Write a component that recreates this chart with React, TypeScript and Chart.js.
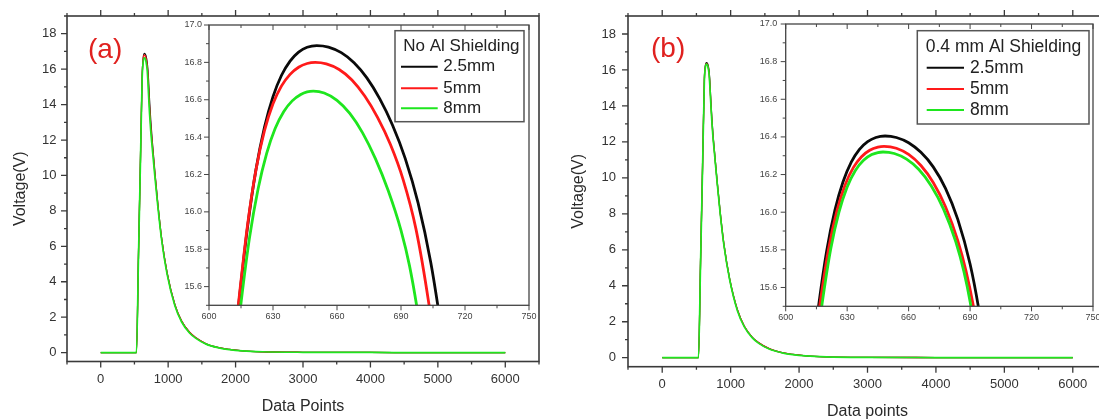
import React, { useEffect, useRef } from "react";
import { Chart, registerables } from "chart.js";
Chart.register(...registerables);

const FONT = "'Liberation Sans', Arial, Helvetica, sans-serif";

// ---------- data ----------
const seriesLabels = ["2.5mm", "5mm", "8mm"];
const seriesColors = ["#0a0a0a", "#ff1a1a", "#1ee61e"];
const legendTitleA = "No Al Shielding";
const legendTitleB = "0.4 mm Al Shielding";
const panelLabelA = "(a)";
const panelLabelB = "(b)";
const xTitleA = "Data Points";
const xTitleB = "Data points";
const yTitle = "Voltage(V)";

const mainXTicks = [0, 1000, 2000, 3000, 4000, 5000, 6000];
const mainYTicks = [0, 2, 4, 6, 8, 10, 12, 14, 16, 18];
const insetXTicks = [600, 630, 660, 690, 720, 750];
const insetYTicks = [15.6, 15.8, 16.0, 16.2, 16.4, 16.6, 16.8, 17.0];

// panel (a) main traces
const mainXA = [0, 530, 560, 590, 614, 630, 650, 670, 690, 700, 708, 716, 724, 740, 763, 803, 847, 902, 985, 1100, 1200, 1317, 1406, 1563, 1752, 1908, 2100, 2400, 3000, 4000, 5000, 6000];
const mainBlackA = [0, 0, 5.5, 11.0, 15.51, 16.62, 16.89, 16.77, 16.345, 15.94, 15.44, 14.85, 14.25, 13.2, 12.0, 10.2, 8.4, 6.5, 4.5, 2.7, 1.78, 1.15, 0.85, 0.5, 0.28, 0.18, 0.1, 0.05, 0.02, 0.01, 0, 0];
const mainRedA = [0, 0, 5.5, 11.0, 15.52, 16.58, 16.8, 16.66, 16.2, 15.71, 15.09, 14.45, 13.88, 12.9, 11.85, 10.12, 8.36, 6.48, 4.49, 2.7, 1.78, 1.15, 0.85, 0.5, 0.28, 0.18, 0.1, 0.05, 0.02, 0.01, 0, 0];
const mainGreenA = [0, 0, 5.4, 10.9, 15.41, 16.41, 16.645, 16.46, 15.9, 15.29, 14.65, 14.05, 13.5, 12.6, 11.6, 9.95, 8.25, 6.4, 4.42, 2.64, 1.73, 1.11, 0.82, 0.48, 0.27, 0.17, 0.1, 0.05, 0.02, 0.01, 0, 0];

// panel (b) main traces
const mainXB = [0, 530, 560, 590, 616, 630, 648, 666, 684, 694, 704, 712, 724, 740, 763, 803, 847, 902, 985, 1100, 1200, 1317, 1406, 1563, 1752, 1908, 2100, 2400, 3000, 4000, 5000, 6000];
const mainBlackB = [0, 0, 5.3, 10.7, 15.5, 16.21, 16.405, 16.318, 15.962, 15.5, 14.78, 14.2, 13.4, 12.5, 11.5, 9.8, 8.1, 6.3, 4.4, 2.65, 1.75, 1.13, 0.84, 0.5, 0.28, 0.18, 0.1, 0.05, 0.02, 0.01, 0, 0];
const mainRedB = [0, 0, 5.3, 10.7, 15.45, 16.17, 16.35, 16.248, 15.849, 15.34, 14.65, 14.1, 13.3, 12.42, 11.44, 9.77, 8.08, 6.29, 4.39, 2.65, 1.75, 1.13, 0.84, 0.5, 0.28, 0.18, 0.1, 0.05, 0.02, 0.01, 0, 0];
const mainGreenB = [0, 0, 5.2, 10.6, 15.37, 16.134, 16.32, 16.21, 15.8, 15.245, 14.55, 14.0, 13.22, 12.35, 11.38, 9.72, 8.03, 6.24, 4.35, 2.6, 1.71, 1.1, 0.81, 0.48, 0.27, 0.17, 0.1, 0.05, 0.02, 0.01, 0, 0];

// panel (a) inset (peak zoom)
const insetBlackAX = [612, 614, 618, 622, 626, 630, 634, 638, 642, 646, 650.5, 656, 662, 668, 674, 680, 686, 692, 698, 704, 708, 710];
const insetBlackAY = [15.29, 15.513, 15.913, 16.225, 16.453, 16.617, 16.731, 16.807, 16.855, 16.881, 16.89, 16.882, 16.852, 16.798, 16.717, 16.606, 16.465, 16.285, 16.048, 15.727, 15.443, 15.28];
const insetRedAX = [612, 614, 618, 622, 626, 630, 634, 638, 642, 646, 649.8, 655, 661, 667, 673, 679, 685, 691, 697, 703, 706];
const insetRedAY = [15.31, 15.528, 15.924, 16.224, 16.434, 16.578, 16.674, 16.736, 16.774, 16.794, 16.8, 16.792, 16.762, 16.706, 16.62, 16.506, 16.362, 16.173, 15.909, 15.513, 15.258];
const insetGreenAX = [613, 615, 619, 623, 627, 631, 635, 639, 643, 646, 648.9, 654, 660, 666, 672, 678, 684, 690, 694, 698, 700];
const insetGreenAY = [15.31, 15.512, 15.862, 16.122, 16.312, 16.446, 16.536, 16.594, 16.628, 16.642, 16.646, 16.636, 16.597, 16.527, 16.423, 16.285, 16.114, 15.901, 15.711, 15.451, 15.29];

// panel (b) inset (peak zoom)
const insetBlackBX = [614, 616, 620, 624, 628, 632, 636, 640, 644, 648.5, 654, 660, 666, 672, 678, 684, 690, 694, 697];
const insetBlackBY = [15.32, 15.498, 15.794, 16.01, 16.162, 16.266, 16.334, 16.375, 16.397, 16.405, 16.397, 16.369, 16.318, 16.241, 16.127, 15.962, 15.725, 15.501, 15.285];
const insetRedBX = [615, 617, 621, 625, 629, 633, 637, 641, 645, 648, 654, 660, 666, 672, 678, 684, 688, 692, 695];
const insetRedBY = [15.37, 15.533, 15.809, 16.007, 16.145, 16.237, 16.295, 16.329, 16.346, 16.35, 16.34, 16.307, 16.248, 16.158, 16.029, 15.849, 15.689, 15.479, 15.279];
const insetGreenBX = [616, 618, 622, 626, 630, 634, 638, 642, 645, 647.5, 653, 659, 665, 671, 677, 683, 687, 690, 693];
const insetGreenBY = [15.37, 15.532, 15.806, 16.0, 16.134, 16.222, 16.276, 16.306, 16.317, 16.32, 16.312, 16.282, 16.227, 16.141, 16.018, 15.844, 15.684, 15.525, 15.315];

// ---------- helpers ----------
function xy(xs: number[], ys: number[]) {
  return xs.map((x, i) => ({ x, y: ys[i] }));
}

function stepValues(min: number, max: number, step: number) {
  const out: number[] = [];
  const n0 = Math.ceil(min / step - 1e-9);
  const n1 = Math.floor(max / step + 1e-9);
  for (let n = n0; n <= n1; n++) out.push(+(n * step).toFixed(6));
  return out;
}

const framePlugin = {
  id: "frameTicks",
  beforeDraw(chart: any, _a: any, o: any) {
    if (!o || !o.fill) return;
    const { ctx, chartArea: c } = chart;
    ctx.save();
    ctx.fillStyle = o.fill;
    ctx.fillRect(c.left, c.top, c.right - c.left, c.bottom - c.top);
    ctx.restore();
  },
  afterDraw(chart: any, _a: any, o: any) {
    if (!o) return;
    const { ctx, chartArea: c, scales } = chart;
    const xs = scales.x;
    const ys = scales.y;
    const xMaj = xs.ticks.map((t: any) => t.value);
    const yMaj = ys.ticks.map((t: any) => t.value);
    const isMaj = (arr: number[], v: number) => arr.some((m) => Math.abs(m - v) < 1e-6);
    ctx.save();
    ctx.strokeStyle = o.color;
    ctx.lineWidth = o.tickWidth;
    ctx.beginPath();
    for (const v of stepValues(xs.min, xs.max, o.xMinorStep)) {
      const len = isMaj(xMaj, v) ? o.major : o.minor;
      const px = xs.getPixelForValue(v);
      if (o.bottom) {
        ctx.moveTo(px, c.bottom);
        ctx.lineTo(px, c.bottom + o.bottom * len);
      }
      if (o.top) {
        ctx.moveTo(px, c.top);
        ctx.lineTo(px, c.top - o.top * len);
      }
    }
    for (const v of stepValues(ys.min, ys.max, o.yMinorStep)) {
      const len = isMaj(yMaj, v) ? o.major : o.minor;
      const py = ys.getPixelForValue(v);
      if (o.left) {
        ctx.moveTo(c.left, py);
        ctx.lineTo(c.left - o.left * len, py);
      }
      if (o.right) {
        ctx.moveTo(c.right, py);
        ctx.lineTo(c.right + o.right * len, py);
      }
    }
    ctx.stroke();
    ctx.lineWidth = o.frameWidth;
    ctx.strokeRect(c.left, c.top, c.right - c.left, c.bottom - c.top);

    if (o.label) {
      const L = o.label;
      ctx.fillStyle = L.color;
      ctx.font = `${L.size}px ${FONT}`;
      ctx.textAlign = "left";
      ctx.textBaseline = "middle";
      ctx.fillText(L.text, c.left + L.dx, c.top + L.dy);
    }

    if (o.legend) {
      const L = o.legend;
      const bx = c.right - L.marginR - L.w;
      const by = c.top + L.marginT;
      ctx.fillStyle = "#ffffff";
      ctx.fillRect(bx, by, L.w, L.h);
      ctx.strokeStyle = L.border;
      ctx.lineWidth = L.borderWidth;
      ctx.strokeRect(bx, by, L.w, L.h);
      ctx.font = `${L.size}px ${FONT}`;
      ctx.textAlign = "left";
      ctx.textBaseline = "middle";
      ctx.fillStyle = L.textColor;
      ctx.fillText(L.title, bx + L.titleX, by + L.titleY);
      chart.data.datasets.forEach((ds: any, i: number) => {
        const y = by + L.itemY[i];
        ctx.strokeStyle = ds.borderColor;
        ctx.lineWidth = L.sampleWidth;
        ctx.beginPath();
        ctx.moveTo(bx + L.lineX0, y);
        ctx.lineTo(bx + L.lineX1, y);
        ctx.stroke();
        ctx.fillStyle = L.textColor;
        ctx.fillText(ds.label, bx + L.textX, y);
      });
    }
    ctx.restore();
  },
};

function buildConfig(p: any) {
  return {
    type: "line",
    data: {
      datasets: p.series.map((s: any, i: number) => ({
        label: seriesLabels[i],
        data: s,
        borderColor: seriesColors[i],
        backgroundColor: seriesColors[i],
        borderWidth: p.lineWidths[i],
        pointRadius: 0,
        fill: false,
        cubicInterpolationMode: "monotone",
        order: 3 - i,
      })),
    },
    options: {
      responsive: false,
      animation: false,
      devicePixelRatio: 1,
      events: [],
      layout: { padding: { left: 0, top: p.padTop, right: p.padRight, bottom: 0 } },
      plugins: {
        legend: { display: false },
        tooltip: { enabled: false },
        frameTicks: p.frame,
      },
      scales: {
        x: {
          type: "linear",
          min: p.xMin,
          max: p.xMax,
          afterBuildTicks: (s: any) => {
            s.ticks = p.xTicks.map((v: number) => ({ value: v }));
          },
          afterFit: (s: any) => {
            s.height = p.xHeight;
            s.paddingLeft = 0;
            s.paddingRight = 0;
          },
          ticks: {
            autoSkip: false,
            maxRotation: 0,
            padding: p.xTickPad,
            color: p.tickColor,
            font: { family: FONT, size: p.tickSize },
            callback: (v: any) => String(v),
          },
          grid: { display: false, drawTicks: false },
          border: { display: false },
          title: p.xTitle
            ? {
                display: true,
                text: p.xTitle,
                color: "#2a2a2a",
                font: { family: FONT, size: p.titleSize },
                padding: { top: 0, bottom: p.xTitlePad },
              }
            : { display: false },
        },
        y: {
          type: "linear",
          min: p.yMin,
          max: p.yMax,
          afterBuildTicks: (s: any) => {
            s.ticks = p.yTicks.map((v: number) => ({ value: v }));
          },
          afterFit: (s: any) => {
            s.width = p.yWidth;
            s.paddingTop = 0;
            s.paddingBottom = 0;
          },
          ticks: {
            autoSkip: false,
            padding: p.yTickPad,
            color: p.tickColor,
            font: { family: FONT, size: p.tickSize },
            callback: (v: any) => (p.yDecimals ? Number(v).toFixed(p.yDecimals) : String(v)),
          },
          grid: { display: false, drawTicks: false },
          border: { display: false },
          title: p.yTitle
            ? {
                display: true,
                text: p.yTitle,
                color: "#2a2a2a",
                font: { family: FONT, size: p.titleSize },
                padding: { top: p.yTitlePad, bottom: 0 },
              }
            : { display: false },
        },
      },
    },
    plugins: [framePlugin],
  };
}

const mainFrame = {
  color: "#3a3a3a",
  frameWidth: 1.6,
  tickWidth: 1.3,
  major: 6,
  minor: 3,
  xMinorStep: 500,
  yMinorStep: 1,
  top: 1,
  bottom: 1,
  left: 1,
  right: 0,
};

const insetFrame = {
  color: "#444444",
  frameWidth: 1.3,
  tickWidth: 1,
  major: 5,
  minor: 3,
  xMinorStep: 15,
  yMinorStep: 0.1,
  top: -1,
  bottom: 1,
  left: 1,
  right: 0,
  fill: "#ffffff",
};

export default function App() {
  const mainA = useRef<HTMLCanvasElement>(null);
  const mainB = useRef<HTMLCanvasElement>(null);
  const insetA = useRef<HTMLCanvasElement>(null);
  const insetB = useRef<HTMLCanvasElement>(null);

  useEffect(() => {
    const charts: Chart[] = [];
    const mainCommon = {
      xMin: -500,
      xMax: 6500,
      yMin: -0.5,
      yMax: 19,
      xTicks: mainXTicks,
      yTicks: mainYTicks,
      tickSize: 13,
      tickColor: "#333333",
      titleSize: 16,
      lineWidths: [1.3, 1.3, 1.7],
      yTitle: yTitle,
    };
    charts.push(
      new Chart(mainA.current as any, buildConfig({
        ...mainCommon,
        series: [xy(mainXA, mainBlackA), xy(mainXA, mainRedA), xy(mainXA, mainGreenA)],
        padTop: 16,
        padRight: 21,
        yWidth: 67,
        xHeight: 78.5,
        xTickPad: 10.5,
        yTickPad: 10.5,
        xTitle: xTitleA,
        xTitlePad: 24,
        yTitlePad: 10.8,
        frame: { ...mainFrame, label: { text: panelLabelA, color: "#e0211f", size: 28, dx: 21, dy: 34.5 } },
      }) as any)
    );
    charts.push(
      new Chart(mainB.current as any, buildConfig({
        ...mainCommon,
        series: [xy(mainXB, mainBlackB), xy(mainXB, mainRedB), xy(mainXB, mainGreenB)],
        padTop: 16,
        padRight: 13,
        yWidth: 68,
        xHeight: 73.3,
        xTickPad: 9.5,
        yTickPad: 12,
        xTitle: xTitleB,
        xTitlePad: 18.7,
        yTitlePad: 9.4,
        frame: { ...mainFrame, label: { text: panelLabelB, color: "#e0211f", size: 28, dx: 23, dy: 33 } },
      }) as any)
    );
    const insetCommon = {
      xMin: 600,
      xMax: 750,
      yMin: 15.5,
      yMax: 17.0,
      xTicks: insetXTicks,
      yTicks: insetYTicks,
      yDecimals: 1,
      tickSize: 9,
      tickColor: "#444444",
      titleSize: 12,
      lineWidths: [2.8, 2.8, 2.8],
      padTop: 5,
    };
    charts.push(
      new Chart(insetA.current as any, buildConfig({
        ...insetCommon,
        series: [xy(insetBlackAX, insetBlackAY), xy(insetRedAX, insetRedAY), xy(insetGreenAX, insetGreenAY)],
        padRight: 11,
        yWidth: 49,
        xHeight: 29.7,
        xTickPad: 5.5,
        yTickPad: 7,
        frame: {
          ...insetFrame,
          legend: {
            title: legendTitleA,
            w: 129,
            h: 91,
            marginR: 5,
            marginT: 5.7,
            titleX: 8.3,
            titleY: 16,
            itemY: [36, 57.6, 77.6],
            lineX0: 6,
            lineX1: 42.7,
            textX: 48.3,
            size: 17,
            textColor: "#222222",
            border: "#555555",
            borderWidth: 1.5,
            sampleWidth: 2,
          },
        },
      }) as any)
    );
    charts.push(
      new Chart(insetB.current as any, buildConfig({
        ...insetCommon,
        series: [xy(insetBlackBX, insetBlackBY), xy(insetRedBX, insetRedBY), xy(insetGreenBX, insetGreenBY)],
        padRight: 12,
        yWidth: 50.7,
        xHeight: 27.7,
        xTickPad: 5.5,
        yTickPad: 8.5,
        frame: {
          ...insetFrame,
          legend: {
            title: legendTitleB,
            w: 171.7,
            h: 93.3,
            marginR: 4,
            marginT: 6.7,
            titleX: 8.4,
            titleY: 16,
            itemY: [37, 58.3, 79.3],
            lineX0: 9.4,
            lineX1: 46.7,
            textX: 52.7,
            size: 17.5,
            textColor: "#222222",
            border: "#555555",
            borderWidth: 1.5,
            sampleWidth: 2,
          },
        },
      }) as any)
    );
    return () => charts.forEach((c) => c.destroy());
  }, []);

  const abs = (l: number, t: number, w: number, h: number): React.CSSProperties => ({
    position: "absolute",
    left: l,
    top: t,
    width: w,
    height: h,
  });

  return (
    <div style={{ position: "fixed", left: 0, top: 0, width: 1099, height: 419, overflow: "hidden", background: "#ffffff" }}>
      <canvas ref={mainA} width={560} height={440} style={abs(0, 0, 560, 440)} />
      <canvas ref={mainB} width={560} height={440} style={abs(560, 0, 560, 440)} />
      <canvas ref={insetA} width={380} height={315} style={abs(160, 20, 380, 315)} />
      <canvas ref={insetB} width={370} height={315} style={abs(735, 19, 370, 315)} />
    </div>
  );
}
